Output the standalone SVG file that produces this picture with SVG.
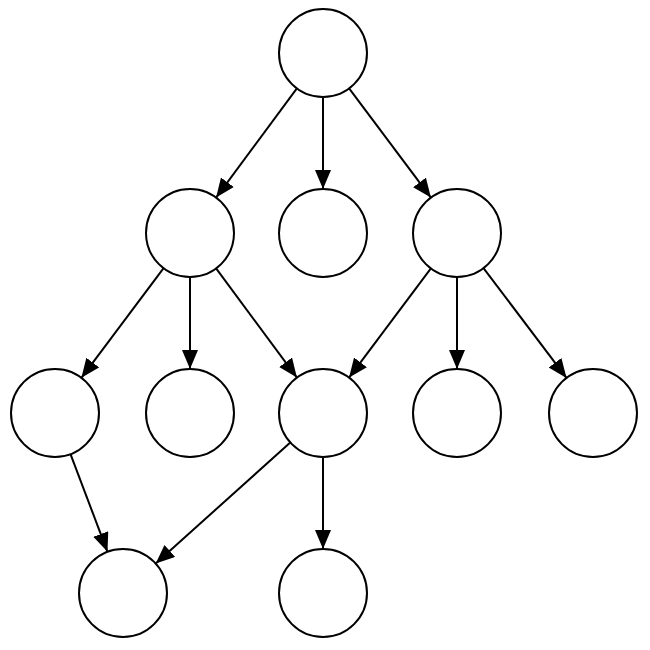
<svg xmlns="http://www.w3.org/2000/svg" width="650" height="650" viewBox="0 0 650 650">
<style>
.n{fill:#fff;stroke:#000;stroke-width:2}
.e{stroke:#000;stroke-width:2;fill:none;marker-end:url(#a)}
</style>
<defs>
<marker id="a" markerUnits="userSpaceOnUse" markerWidth="20" markerHeight="18" refX="19" refY="8" orient="auto">
<path d="M0,0 L19,8 L0,16 Z" fill="#000"/>
</marker>
</defs>
<rect width="650" height="650" fill="#fff"/>
<g id="edges">
<line class="e" x1="296.9" y1="88.4" x2="216.1" y2="197.6"/>
<line class="e" x1="323" y1="97" x2="323" y2="189"/>
<line class="e" x1="349.1" y1="88.4" x2="430.9" y2="197.6"/>
<line class="e" x1="163.6" y1="268.2" x2="81.4" y2="377.8"/>
<line class="e" x1="190" y1="277" x2="190" y2="369"/>
<line class="e" x1="216.1" y1="268.4" x2="296.9" y2="377.6"/>
<line class="e" x1="430.9" y1="268.4" x2="349.1" y2="377.6"/>
<line class="e" x1="457" y1="277" x2="457" y2="369"/>
<line class="e" x1="483.5" y1="268.1" x2="566.5" y2="377.9"/>
<line class="e" x1="70.5" y1="454.2" x2="107.5" y2="551.8"/>
<line class="e" x1="290.3" y1="442.4" x2="155.7" y2="563.6"/>
<line class="e" x1="323" y1="457" x2="323" y2="549"/>
</g>
<g id="n0"><circle class="n" cx="323" cy="53" r="44"/></g>
<g id="n1"><circle class="n" cx="190" cy="233" r="44"/></g>
<g id="n2"><circle class="n" cx="323" cy="233" r="44"/></g>
<g id="n3"><circle class="n" cx="457" cy="233" r="44"/></g>
<g id="n4"><circle class="n" cx="55" cy="413" r="44"/></g>
<g id="n5"><circle class="n" cx="190" cy="413" r="44"/></g>
<g id="n6"><circle class="n" cx="323" cy="413" r="44"/></g>
<g id="n7"><circle class="n" cx="457" cy="413" r="44"/></g>
<g id="n8"><circle class="n" cx="593" cy="413" r="44"/></g>
<g id="n9"><circle class="n" cx="123" cy="593" r="44"/></g>
<g id="n10"><circle class="n" cx="323" cy="593" r="44"/></g>
</svg>
